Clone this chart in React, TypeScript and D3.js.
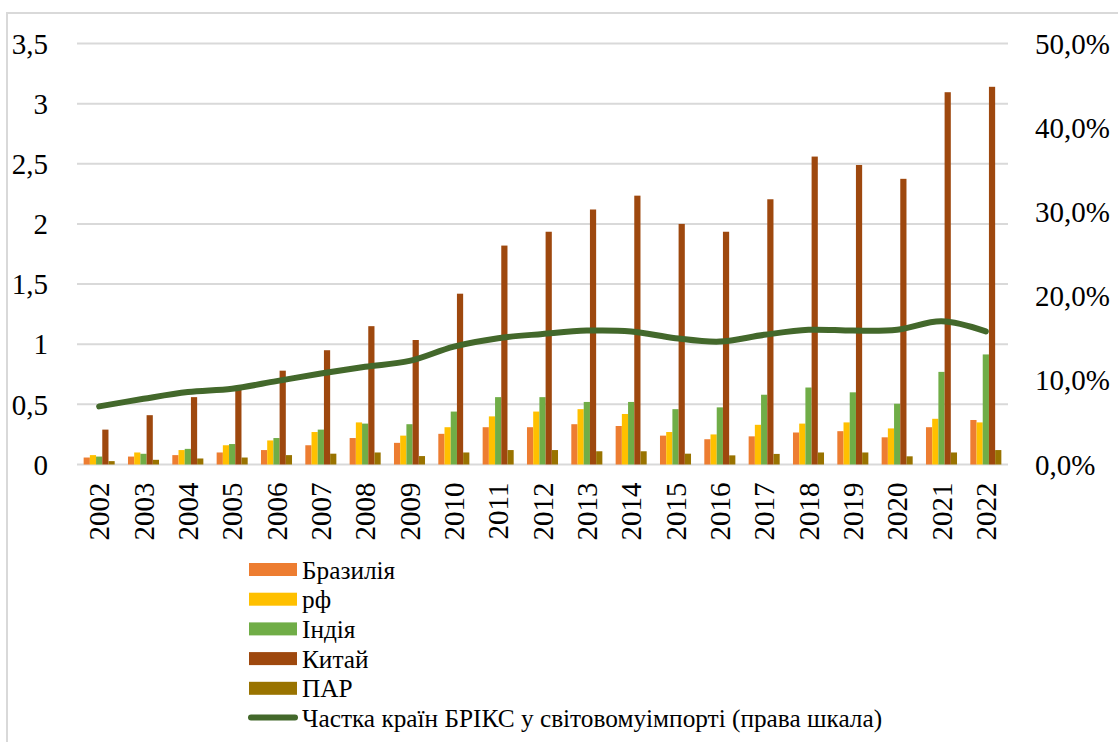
import React from "react";
import * as d3 from "d3";

const years = ["2002","2003","2004","2005","2006","2007","2008","2009","2010","2011","2012","2013","2014","2015","2016","2017","2018","2019","2020","2021","2022"];
const brazil = [0.058,0.066,0.078,0.10,0.12,0.16,0.22,0.18,0.255,0.31,0.31,0.335,0.32,0.24,0.21,0.234,0.266,0.277,0.226,0.31,0.37];
const russia = [0.078,0.10,0.12,0.16,0.20,0.27,0.35,0.24,0.31,0.40,0.44,0.46,0.42,0.27,0.25,0.33,0.34,0.35,0.30,0.38,0.35];
const india = [0.066,0.089,0.13,0.17,0.22,0.29,0.34,0.335,0.44,0.56,0.56,0.52,0.52,0.46,0.475,0.58,0.64,0.60,0.505,0.77,0.915];
const china = [0.29,0.41,0.56,0.62,0.78,0.95,1.15,1.035,1.42,1.82,1.935,2.12,2.235,2.0,1.935,2.205,2.56,2.49,2.375,3.095,3.14];
const sar = [0.028,0.039,0.05,0.058,0.078,0.09,0.10,0.07,0.10,0.12,0.12,0.11,0.11,0.09,0.076,0.088,0.10,0.10,0.068,0.10,0.12];
const share = [0.069,0.078,0.086,0.090,0.099,0.108,0.116,0.123,0.140,0.150,0.155,0.159,0.158,0.150,0.146,0.154,0.160,0.159,0.160,0.170,0.158];

const seriesNames = ["Бразилія","рф","Індія","Китай","ПАР"];
const seriesColors = ["#ED7D31","#FFC000","#70AD47","#9E480E","#997300"];
const lineName = "Частка країн БРІКС у світовомуімпорті (права шкала)";
const lineColor = "#43682B";
const leftTicks = [0,0.5,1,1.5,2,2.5,3,3.5];
const rightTicks = [0,0.1,0.2,0.3,0.4,0.5];

const FONT = "'Liberation Serif', 'Times New Roman', serif";
const tStyle = { fontFamily: FONT };

export default function App() {
  const W = 1118, H = 742;
  const left = 77, right = 1008, top = 43.5, bottom = 464.5;
  const allSeries = [brazil, russia, india, china, sar];

  const x = d3.scaleBand<string>().domain(years).range([left, right]).paddingInner(0.3).paddingOuter(0.15);
  const xi = d3.scaleBand<number>().domain(d3.range(allSeries.length)).range([0, x.bandwidth()]);
  const y = d3.scaleLinear().domain([0, 3.5]).range([bottom, top]);
  const yr = d3.scaleLinear().domain([0, 0.5]).range([bottom, top]);
  const cx = (yr0: string) => (x(yr0) as number) + x.bandwidth() / 2;

  const line = d3.line<number>()
    .x((_, i) => cx(years[i]))
    .y((d) => yr(d))
    .curve(d3.curveCatmullRom.alpha(0.5));

  const fmtR = (v: number) => (v * 100).toFixed(1).replace(".", ",") + "%";
  const fmtL = (v: number) => String(v).replace(".", ",");

  const legendX = 249, legendW = 48, legendY0 = 569.5, legendStep = 29.7;

  return (
    <svg width={W} height={H} style={{ position: "absolute", left: 0, top: 0, background: "#fff" }}>
      <rect x={0} y={0} width={W} height={H} fill="#fff" />
      <rect x={7} y={13} width={W + 10} height={H + 10} fill="#fff" stroke="#D9D9D9" strokeWidth={2} />
      {leftTicks.map((t) => (
        <line key={"g" + t} x1={left} x2={right} y1={y(t)} y2={y(t)} stroke="#D9D9D9" strokeWidth={2} />
      ))}
      {leftTicks.map((t) => (
        <text key={"l" + t} x={48} y={y(t)} dy="0.35em" textAnchor="end" fontSize={29} fill="#000" style={tStyle}>{fmtL(t)}</text>
      ))}
      {rightTicks.map((t) => (
        <text key={"r" + t} x={1035} y={yr(t)} dy="0.35em" textAnchor="start" fontSize={29} fill="#000" style={tStyle}>{fmtR(t)}</text>
      ))}
      {years.map((yr0, i) => (
        <g key={yr0}>
          {allSeries.map((s, k) => (
            <rect key={k} x={(x(yr0) as number) + (xi(k) as number)} y={y(s[i])} width={xi.bandwidth()} height={bottom - y(s[i])} fill={seriesColors[k]} />
          ))}
        </g>
      ))}
      <path d={line(share) || ""} fill="none" stroke={lineColor} strokeWidth={6} strokeLinecap="round" strokeLinejoin="round" />
      {years.map((yr0) => (
        <text key={"x" + yr0} transform={`translate(${cx(yr0) + 10},${bottom + 18}) rotate(-90)`} textAnchor="end" fontSize={29} fill="#000" style={tStyle}>{yr0}</text>
      ))}
      {seriesNames.map((n, k) => (
        <g key={n}>
          <rect x={legendX} y={legendY0 + k * legendStep - 6.5} width={legendW} height={13} fill={seriesColors[k]} />
          <text x={302} y={legendY0 + k * legendStep + 9} fontSize={25.3} fill="#000" style={tStyle}>{n}</text>
        </g>
      ))}
      <line x1={legendX + 2} x2={legendX + legendW - 2} y1={legendY0 + 5 * legendStep - 0.5} y2={legendY0 + 5 * legendStep - 0.5} stroke={lineColor} strokeWidth={6} strokeLinecap="round" />
      <text x={302} y={legendY0 + 5 * legendStep + 9} fontSize={25.3} fill="#000" style={tStyle}>{lineName}</text>
    </svg>
  );
}
